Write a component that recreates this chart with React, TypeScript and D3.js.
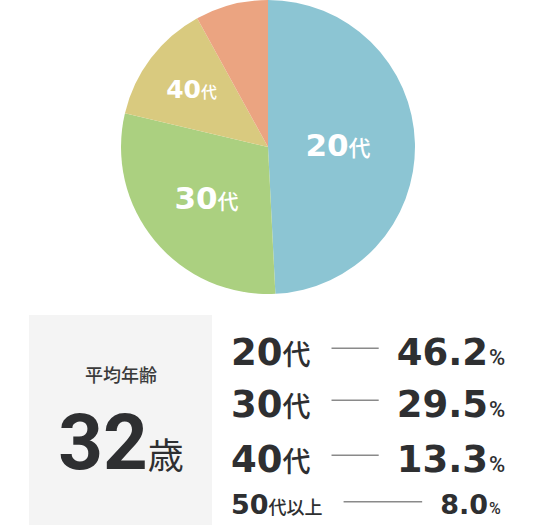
import { useEffect, useRef } from 'react';
import * as d3 from 'd3';

// data
const AGE_NUMS = ['20', '30', '40', '50'];
const AGE_SUFFIX = ['代', '代', '代', '代以上'];
const PERCENTS = [46.2, 29.5, 13.3, 8.0];
// slice sizes as drawn in the pie (the 20代 slice covers the remainder)
const PIE_SHARES = [49.2, 29.5, 13.3, 8.0];
const COLORS = ['#8cc5d3', '#abd080', '#d9ca7f', '#eba481'];
const AVG_LABEL = '平均年齢';
const AVG_AGE = '32';
const AVG_UNIT = '歳';

// layout
const W = 536;
const H = 525;
const CX = 268;
const CY = 147;
const R = 147;
const LABEL_R = [70, 80, 96];
const LABEL_NUM_SIZE = [31, 31, 25];
const LABEL_SUF_SIZE = [22, 21, 16];
const ROW_BASE = [365, 417, 472, 514];
const ROW_NUM_SIZE = [37, 37, 37, 27];
const ROW_SUF_SIZE = [28, 28, 28, 18];
const PCT_SIZE = [22, 22, 22, 16];

const DIGIT_FONT = '"DejaVu Sans", sans-serif';
const CJK_FONT = '"Noto Sans CJK JP", sans-serif';
const INK = '#2e2f31';

export default function App() {
  const svgRef = useRef<SVGSVGElement>(null);

  useEffect(() => {
    if (!svgRef.current) return;
    const svg = d3.select(svgRef.current);
    svg.selectAll('*').remove();

    // Pie
    const pie = d3.pie<number>().value((d) => d).sort(null);
    const arcs = pie(PIE_SHARES);
    const arc = d3.arc<d3.PieArcDatum<number>>().innerRadius(0).outerRadius(R);
    const g = svg.append('g').attr('transform', `translate(${CX},${CY})`);
    g.selectAll('path')
      .data(arcs)
      .join('path')
      .attr('d', arc)
      .attr('fill', (_d, i) => COLORS[i]);

    arcs.slice(0, 3).forEach((a, i) => {
      const labelArc = d3
        .arc<d3.PieArcDatum<number>>()
        .innerRadius(LABEL_R[i])
        .outerRadius(LABEL_R[i]);
      const [x, y] = labelArc.centroid(a);
      const t = g
        .append('text')
        .attr('x', x)
        .attr('y', y + LABEL_NUM_SIZE[i] * 0.36)
        .attr('text-anchor', 'middle')
        .attr('fill', '#fff');
      t.append('tspan')
        .style('font-family', DIGIT_FONT)
        .style('font-weight', '700')
        .style('font-size', `${LABEL_NUM_SIZE[i]}px`)
        .text(AGE_NUMS[i]);
      t.append('tspan')
        .style('font-family', CJK_FONT)
        .style('font-weight', '500')
        .style('font-size', `${LABEL_SUF_SIZE[i]}px`)
        .text(AGE_SUFFIX[i]);
    });

    // Average age box
    svg.append('rect')
      .attr('x', 29)
      .attr('y', 315)
      .attr('width', 183)
      .attr('height', H - 315)
      .attr('fill', '#f4f4f4');

    svg.append('text')
      .attr('x', 121)
      .attr('y', 382)
      .attr('text-anchor', 'middle')
      .style('font-family', CJK_FONT)
      .style('font-weight', '500')
      .style('font-size', '18px')
      .attr('fill', '#3a3a3a')
      .text(AVG_LABEL);

    const avg = svg.append('text')
      .attr('x', 121)
      .attr('y', 469)
      .attr('text-anchor', 'middle')
      .attr('fill', INK);
    avg.append('tspan')
      .style('font-family', 'Roboto, sans-serif')
      .style('font-weight', '700')
      .style('font-size', '78px')
      .text(AVG_AGE);
    avg.append('tspan')
      .style('font-family', CJK_FONT)
      .style('font-weight', '400')
      .style('font-size', '36px')
      .text(AVG_UNIT);

    // Rows
    AGE_NUMS.forEach((num, i) => {
      const base = ROW_BASE[i];
      const label = svg.append('text')
        .attr('x', 231)
        .attr('y', base)
        .attr('fill', INK);
      label.append('tspan')
        .style('font-family', DIGIT_FONT)
        .style('font-weight', '700')
        .style('font-size', `${ROW_NUM_SIZE[i]}px`)
        .text(num);
      label.append('tspan')
        .style('font-family', CJK_FONT)
        .style('font-weight', '500')
        .style('font-size', `${ROW_SUF_SIZE[i]}px`)
        .text(AGE_SUFFIX[i]);

      const value = svg.append('text')
        .attr('x', 488)
        .attr('y', base)
        .attr('text-anchor', 'end')
        .attr('fill', INK)
        .style('font-family', DIGIT_FONT)
        .style('font-weight', '700')
        .style('font-size', `${ROW_NUM_SIZE[i]}px`)
        .text(d3.format('.1f')(PERCENTS[i]));

      svg.append('text')
        .attr('x', 489)
        .attr('y', base)
        .attr('fill', INK)
        .style('font-family', 'Roboto, sans-serif')
        .style('font-weight', '500')
        .style('font-size', `${PCT_SIZE[i]}px`)
        .text('%');

      const lb = (label.node() as SVGTextElement).getBBox();
      const vb = (value.node() as SVGTextElement).getBBox();
      const ly = base - ROW_NUM_SIZE[i] * 0.45;
      svg.append('line')
        .attr('x1', lb.x + lb.width + 21)
        .attr('x2', vb.x - 18)
        .attr('y1', ly)
        .attr('y2', ly)
        .attr('stroke', '#8a8a8a')
        .attr('stroke-width', 1.5);
    });
  }, []);

  return (
    <svg
      ref={svgRef}
      width={W}
      height={H}
      style={{ position: 'absolute', left: 0, top: 0, background: '#fff' }}
    />
  );
}
